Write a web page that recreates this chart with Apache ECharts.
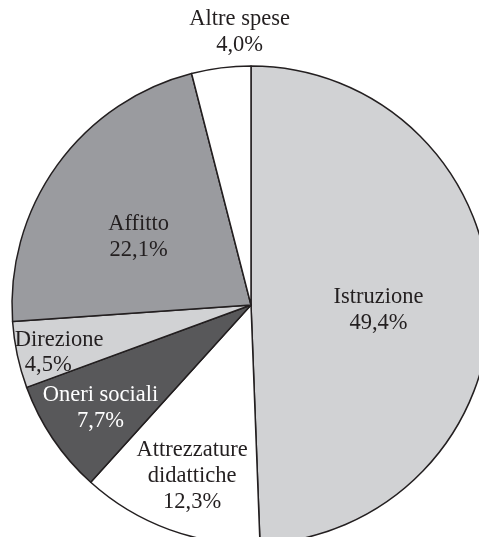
<!DOCTYPE html>
<html>
<head>
<meta charset="utf-8">
<script src="https://cdn.jsdelivr.net/npm/echarts@6/dist/echarts.min.js"></script>
<style>
html,body{margin:0;padding:0;background:#fff;}
#chart{width:479px;height:537px;}
</style>
</head>
<body>
<div id="chart"></div>
<script>
// Data (clockwise from top)
var categories = ['Istruzione', 'Attrezzature\ndidattiche', 'Oneri sociali', 'Direzione', 'Affitto', 'Altre spese'];
var values = [49.4, 12.3, 7.7, 4.5, 22.1, 4.0];
var valueLabels = ['49,4%', '12,3%', '7,7%', '4,5%', '22,1%', '4,0%'];

// Styles
var fillColors = ['#d1d2d4', '#ffffff', '#58585a', '#d1d2d4', '#9a9b9f', '#ffffff'];
var textColors = ['#231f20', '#231f20', '#ffffff', '#231f20', '#231f20', '#231f20'];
var labelShift = [[5, 7], [-17, 56], [-49, 35], [-72, 22], [-13, 4], [4, -151]];

var data = categories.map(function (c, i) {
  var txt = c + '\n' + valueLabels[i];
  var item = {
    name: c,
    value: values[i],
    itemStyle: { color: fillColors[i] },
    label: { color: textColors[i], formatter: txt }
  };
  if (i === 3) {
    item.label.formatter = '{a|' + c + '}\n{b|' + valueLabels[i] + '}';
    item.label.rich = {
      a: { color: textColors[i], fontSize: 22.5, lineHeight: 25, fontFamily: 'Liberation Serif' },
      b: { color: textColors[i], fontSize: 22.5, lineHeight: 25, fontFamily: 'Liberation Serif', padding: [0, 22, 0, 0] }
    };
  }
  return item;
});

var chart = echarts.init(document.getElementById('chart'), null, { renderer: 'canvas' });
chart.setOption({
  animation: false,
  backgroundColor: '#ffffff',
  series: [{
    type: 'pie',
    center: [251, 305],
    radius: [0, 239],
    startAngle: 90,
    clockwise: true,
    avoidLabelOverlap: false,
    minShowLabelAngle: 0,
    itemStyle: { borderColor: '#231f20', borderWidth: 1.5 },
    label: {
      show: true,
      position: 'inside',
      rotate: 0,
      fontFamily: 'Liberation Serif',
      fontSize: 22.5,
      lineHeight: 26,
      align: 'center',
      overflow: 'none'
    },
    labelLine: { show: false },
    labelLayout: function (p) {
      var s = labelShift[p.dataIndex];
      return { dx: s[0], dy: s[1] };
    },
    emphasis: { disabled: true },
    data: data
  }]
});
</script>
</body>
</html>
